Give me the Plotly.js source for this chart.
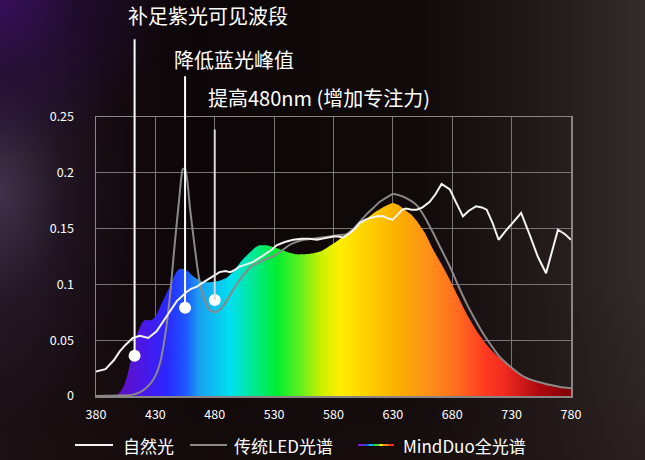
<!DOCTYPE html>
<html>
<head>
<meta charset="utf-8">
<script src="https://cdn.plot.ly/plotly-3.0.1.min.js"></script>
<style>
html,body{margin:0;padding:0;background:#0e0709;}
#chart{width:645px;height:460px;
background:
 radial-gradient(ellipse 170px 160px at 0% 0%, rgba(55,15,95,0.95) 0%, rgba(40,12,65,0.6) 45%, rgba(30,12,40,0) 100%),
 radial-gradient(ellipse 130px 230px at 0% 42%, rgba(78,60,92,0.75) 0%, rgba(50,35,60,0.35) 50%, rgba(30,20,35,0) 100%),
 linear-gradient(180deg, rgba(0,0,0,0) 60%, rgba(30,18,16,0.4) 100%),
 linear-gradient(90deg, #1a1016 0%, #0d0608 30%, #110a0b 65%, #221a1b 85%, #332b2c 100%);}
</style>
</head>
<body>
<div id="chart"></div>
<script>
// ---- data ----
const naturalWl = [380,388,395,400,405,411,417,424,431,436,440,444,448,452,456,460,465,469,473,478,484,489,493,497,501,506,512,518,524,528,532,539,546,553,560,566,571,576,580,584,588,594,599,602,607,612,617,622,626,630,634,638,641,646,650,655,661,666,671,674,678,683,689,694,700,705,709,714,719,725,732,738,745,752,759,764,769,775,780];
const naturalVal = [0.022,0.024,0.032,0.040,0.046,0.052,0.054,0.052,0.058,0.066,0.073,0.079,0.085,0.089,0.093,0.096,0.098,0.101,0.104,0.107,0.111,0.112,0.111,0.113,0.116,0.118,0.120,0.124,0.128,0.131,0.135,0.138,0.140,0.141,0.141,0.140,0.141,0.142,0.143,0.143,0.142,0.146,0.151,0.155,0.158,0.160,0.161,0.161,0.159,0.158,0.163,0.167,0.168,0.167,0.167,0.169,0.174,0.181,0.190,0.188,0.185,0.174,0.161,0.166,0.170,0.169,0.167,0.155,0.140,0.148,0.157,0.164,0.145,0.125,0.110,0.130,0.149,0.145,0.140];

const ledWl = [380,400,410,418,425,430,434,437,440,443,446,450,453,455,457,459,462,465,468,470,473,476,480,484,488,492,496,501,507,512,518,524,529,535,541,546,555,563,570,577,584,591,597,602,608,614,619,625,630,635,640,645,650,657,664,671,678,685,692,699,706,713,720,727,734,741,748,755,762,771,780];
const ledVal = [0,0.0005,0.001,0.004,0.010,0.018,0.030,0.046,0.068,0.097,0.133,0.176,0.203,0.204,0.192,0.170,0.143,0.118,0.098,0.090,0.082,0.077,0.075,0.077,0.082,0.089,0.096,0.104,0.112,0.117,0.120,0.123,0.125,0.129,0.134,0.137,0.140,0.141,0.142,0.143,0.144,0.145,0.150,0.156,0.163,0.169,0.174,0.178,0.181,0.180,0.178,0.175,0.171,0.160,0.146,0.131,0.116,0.099,0.083,0.069,0.056,0.045,0.035,0.028,0.022,0.017,0.014,0.012,0.010,0.008,0.007];

const mindWl = [380,395,399,403,406,410,414,418,421,427,431,434,438,442,446,449,453,457,461,465,470,476,483,490,496,501,506,510,514,518,524,530,536,541,548,555,563,570,576,582,588,595,602,608,614,620,625,630,635,640,645,650,657,664,671,678,685,692,699,706,713,720,730,740,750,760,770,780];
const mindVal = [0,0,0.002,0.008,0.017,0.035,0.053,0.064,0.068,0.068,0.073,0.080,0.089,0.098,0.108,0.113,0.114,0.112,0.108,0.105,0.102,0.102,0.103,0.106,0.112,0.119,0.125,0.129,0.133,0.135,0.135,0.133,0.131,0.129,0.127,0.127,0.128,0.130,0.134,0.138,0.143,0.148,0.154,0.159,0.164,0.168,0.171,0.173,0.171,0.167,0.163,0.157,0.146,0.131,0.118,0.104,0.089,0.074,0.061,0.050,0.041,0.034,0.025,0.018,0.013,0.010,0.008,0.007];

const calloutWl = [412.5, 455, 480];
const calloutVal = [0.036, 0.079, 0.086];
const calloutText = ['补足紫光可见波段', '降低蓝光峰值', '提高480nm (增加专注力)'];

const xTicks = [380,430,480,530,580,630,680,730,780];
const yTicks = [0,0.05,0.1,0.15,0.2,0.25];
const legendNames = ['自然光', '传统LED光谱', 'MindDuo全光谱'];

// ---- styles ----
const spectrumScale = [
  [0.00,'#5a0aa8'],[0.05,'#6010c0'],[0.10,'#4a18e8'],[0.15,'#2a28ff'],
  [0.19,'#1e58ff'],[0.2175,'#1aa0f0'],[0.2825,'#00e0f0'],
  [0.325,'#00e8a0'],[0.38,'#00ee30'],[0.43,'#60f020'],
  [0.4725,'#c8f000'],[0.5125,'#ffee00'],[0.57,'#ffd000'],[0.6325,'#fbb000'],
  [0.70,'#fd9018'],[0.7625,'#ff6a20'],[0.82,'#ff3a20'],[0.86,'#f02a20'],[0.93,'#b00a10'],[1.0,'#800008']
];

const traces = [
  {x: mindWl, y: mindVal, type:'scatter', mode:'lines', fill:'tozeroy',
   line:{width:0, shape:'spline', smoothing:0.6, color:'rgba(0,0,0,0)'},
   fillgradient:{type:'horizontal', start:380, stop:780, colorscale: spectrumScale},
   hoverinfo:'skip', showlegend:false},
  {x: ledWl, y: ledVal, type:'scatter', mode:'lines',
   line:{width:2, color:'#8c8888', shape:'spline', smoothing:0.5}, showlegend:false},
  {x: naturalWl, y: naturalVal, type:'scatter', mode:'lines',
   line:{width:2, color:'#f4f4f4'}, showlegend:false},
  {x: calloutWl, y: calloutVal, type:'scatter', mode:'markers',
   marker:{size:12, color:'#ffffff'}, cliponaxis:false, showlegend:false}
];

const toPaperX = px => (px - 96) / 475;
const toPaperY = py => (396 - py) / 279;

const annotations = [];
const lineTops = [-318, -233, -172];
const textPos = [[126, 15], [172, 59], [206, 98]];
for (let i = 0; i < calloutWl.length; i++) {
  annotations.push({x: calloutWl[i], y: calloutVal[i], xref:'x', yref:'y',
    ax: 0, ay: lineTops[i], axref:'pixel', ayref:'pixel', text:'',
    showarrow:true, arrowhead:0, arrowwidth:2, arrowcolor: i===2 ? '#d8d8d8' : '#ffffff', standoff:0, startstandoff:0});
  annotations.push({x: toPaperX(textPos[i][0]), y: toPaperY(textPos[i][1]), xref:'paper', yref:'paper',
    xanchor:'left', yanchor:'middle', showarrow:false, text: calloutText[i],
    font:{size:20, color:'#ffffff', family:'"Noto Sans CJK SC", "Noto Sans", sans-serif'}});
}

// legend (manual)
const legY = toPaperY(445);
const shapes = [];
shapes.push({type:'line', xref:'paper', yref:'paper', x0:toPaperX(75), x1:toPaperX(113), y0:legY, y1:legY, line:{color:'#f4f4f4', width:2}});
shapes.push({type:'line', xref:'paper', yref:'paper', x0:toPaperX(190), x1:toPaperX(227), y0:legY, y1:legY, line:{color:'#8c8888', width:2}});
const rb = ['#7a20d0','#3040ff','#10b0e8','#20e040','#e8e800','#ff8020','#ff2a20'];
const seg = 36 / rb.length;
for (let i = 0; i < rb.length; i++) {
  shapes.push({type:'line', xref:'paper', yref:'paper', x0:toPaperX(358 + i*seg), x1:toPaperX(358 + (i+1)*seg), y0:legY, y1:legY, line:{color:rb[i], width:2}});
}
const legTextX = [121, 232, 401];
for (let i = 0; i < legendNames.length; i++) {
  annotations.push({x: toPaperX(legTextX[i]), y: legY, xref:'paper', yref:'paper', xanchor:'left', yanchor:'middle',
    showarrow:false, text: legendNames[i],
    font:{size:17, color:'#ffffff', family:'"Noto Sans CJK SC", "Noto Sans", sans-serif'}});
}

const layout = {
  width:645, height:460,
  margin:{l:96, r:74, t:117, b:64},
  paper_bgcolor:'rgba(0,0,0,0)', plot_bgcolor:'rgba(0,0,0,0)',
  font:{family:'"Noto Sans CJK SC", "Noto Sans", sans-serif', color:'#ffffff', size:12},
  showlegend:false,
  xaxis:{range:[380,780], tickvals:xTicks, ticktext:xTicks.map(String), showgrid:true, gridcolor:'#7a7474', gridwidth:1,
    zeroline:false, showline:true, linecolor:'#8a8484', linewidth:1.5, mirror:true, ticks:'', ticklabelstandoff:6,
    tickfont:{size:12.5, color:'#ffffff'}},
  yaxis:{range:[0,0.25], tickvals:yTicks, ticktext:['0','0.05','0.1','0.15','0.2','0.25'], showgrid:true, gridcolor:'#7a7474', gridwidth:1,
    zeroline:false, showline:true, linecolor:'#8a8484', linewidth:1.5, mirror:true, ticks:'', ticklabelstandoff:18,
    tickfont:{size:12.5, color:'#ffffff'}},
  annotations: annotations,
  shapes: shapes
};

Plotly.newPlot('chart', traces, layout, {displayModeBar:false, staticPlot:true});
</script>
</body>
</html>
